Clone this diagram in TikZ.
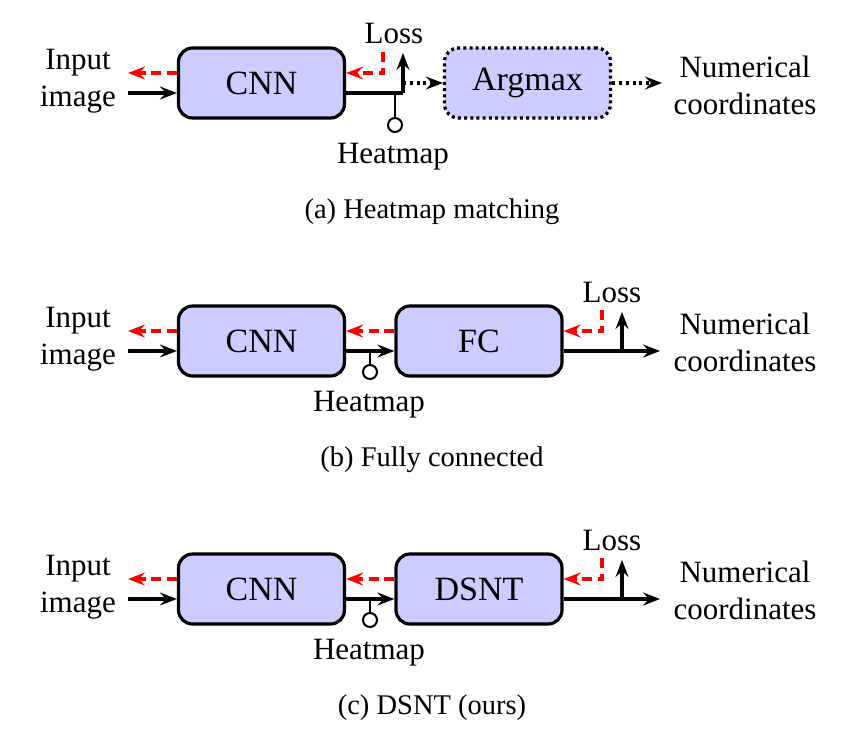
\documentclass[tikz,border=0pt]{standalone}
\usepackage{fontspec}
\setmainfont{Liberation Serif}
\usetikzlibrary{arrows.meta}
\begin{document}
\begin{tikzpicture}[x=1pt,y=-1pt,
  blk/.style={draw=black,line width=3.2pt,fill=blue!20,rounded corners=14pt,minimum width=166pt,minimum height=70pt,inner sep=0pt,font=\fontsize{34}{40}\selectfont},
  dotblk/.style={blk,dash pattern=on 3pt off 3.2pt,line width=3.3pt},
  lbl/.style={align=center,inner sep=0pt,font=\fontsize{31}{37}\selectfont},
  captxt/.style={inner sep=0pt,font=\fontsize{28.5}{34}\selectfont},
  tipk/.tip={Stealth[length=17pt,width=13pt,inset=6pt]},
  fwd/.style={line width=3.1pt,-tipk},
  fwdplain/.style={line width=3.1pt},
  dotarr/.style={line width=3.2pt,dash pattern=on 3pt off 3.8pt,-tipk},
  bwd/.style={red,line width=3.1pt,dash pattern=on 10pt off 5.5pt,-tipk},
  stem/.style={line width=2pt},
  hm/.style={circle,draw,line width=2pt,fill=white,minimum size=14pt,inner sep=0pt}
]
\useasboundingbox (0,0) rectangle (864,732);

% ---------------- (a) ----------------
\node[blk] (acnn) at (261.5,83) {CNN};
\node[dotblk] (aarg) at (527.5,83) {Argmax};
\node[lbl] (ain) at (78,81) {Input\\image};
\node[lbl] (aout) at (745,85) {Numerical\\coordinates};
\coordinate (ainS) at (128,93);
\coordinate (ainE) at (128,73);
\draw[fwd] (ainS) -- (ainS -| acnn.west);
\draw[bwd] (ainE -| acnn.west) -- (ainE);
\coordinate (acor) at (403,93);
\coordinate (aloss) at (403,53);
\draw[fwdplain] (acor -| acnn.east) -- (acor);
\draw[fwd] (acor) -- (aloss);
\node[lbl] (alosst) at (394,33) {Loss};
\coordinate (astem) at (395,93);
\node[hm] (ahm) at (395,125) {};
\draw[stem] (astem) -- (ahm.north);
\node[lbl] (ahmt) at (393,157) {Heatmap};
\coordinate (ared) at (383,52);
\coordinate (aredc) at (383,73);
\draw[bwd] (ared) -- (aredc) -- (aredc -| acnn.east);
\coordinate (adot) at (403,83);
\draw[dotarr] (adot) -- (aarg.west);
\coordinate (aoutT) at (662,83);
\draw[dotarr] (aarg.east) -- (aoutT);
\node[captxt] (acap) at (432,212) {(a) Heatmap matching};

% ---------------- (b) ----------------
\node[blk] (bcnn) at (261.5,341) {CNN};
\node[blk] (bfc) at (479,341) {FC};
\node[lbl] (bin) at (78,339) {Input\\image};
\node[lbl] (bout) at (745,342) {Numerical\\coordinates};
\coordinate (binS) at (128,351);
\coordinate (binE) at (128,331);
\draw[fwd] (binS) -- (binS -| bcnn.west);
\draw[bwd] (binE -| bcnn.west) -- (binE);
\coordinate (bmid) at (370,351);
\draw[fwd] (bmid -| bcnn.east) -- (bmid -| bfc.west);
\draw[bwd] (bfc.west |- binE) -- (bcnn.east |- binE);
\node[hm] (bhm) at (370,372) {};
\draw[stem] (bmid) -- (bhm.north);
\node[lbl] (bhmt) at (369,405) {Heatmap};
\coordinate (bcor) at (622,351);
\coordinate (bend) at (660,351);
\draw[fwd] (bcor -| bfc.east) -- (bend);
\coordinate (bloss) at (622,312);
\draw[fwd] (bcor) -- (bloss);
\node[lbl] (blosst) at (612,292) {Loss};
\coordinate (bred) at (602,310);
\coordinate (bredc) at (602,331);
\draw[bwd] (bred) -- (bredc) -- (bredc -| bfc.east);
\node[captxt] (bcap) at (432,460) {(b) Fully connected};

% ---------------- (c) ----------------
\node[blk] (ccnn) at (261.5,589) {CNN};
\node[blk] (cds) at (479,589) {DSNT};
\node[lbl] (cin) at (78,587) {Input\\image};
\node[lbl] (cout) at (745,590) {Numerical\\coordinates};
\coordinate (cinS) at (128,599);
\coordinate (cinE) at (128,579);
\draw[fwd] (cinS) -- (cinS -| ccnn.west);
\draw[bwd] (cinE -| ccnn.west) -- (cinE);
\coordinate (cmid) at (370,599);
\draw[fwd] (cmid -| ccnn.east) -- (cmid -| cds.west);
\draw[bwd] (cds.west |- cinE) -- (ccnn.east |- cinE);
\node[hm] (chm) at (370,620) {};
\draw[stem] (cmid) -- (chm.north);
\node[lbl] (chmt) at (369,653) {Heatmap};
\coordinate (ccor) at (622,599);
\coordinate (cend) at (660,599);
\draw[fwd] (ccor -| cds.east) -- (cend);
\coordinate (closs) at (622,560);
\draw[fwd] (ccor) -- (closs);
\node[lbl] (closst) at (612,540) {Loss};
\coordinate (cred) at (602,558);
\coordinate (credc) at (602,579);
\draw[bwd] (cred) -- (credc) -- (credc -| cds.east);
\node[captxt] (ccap) at (432,708) {(c) DSNT (ours)};
\end{tikzpicture}
\end{document}
